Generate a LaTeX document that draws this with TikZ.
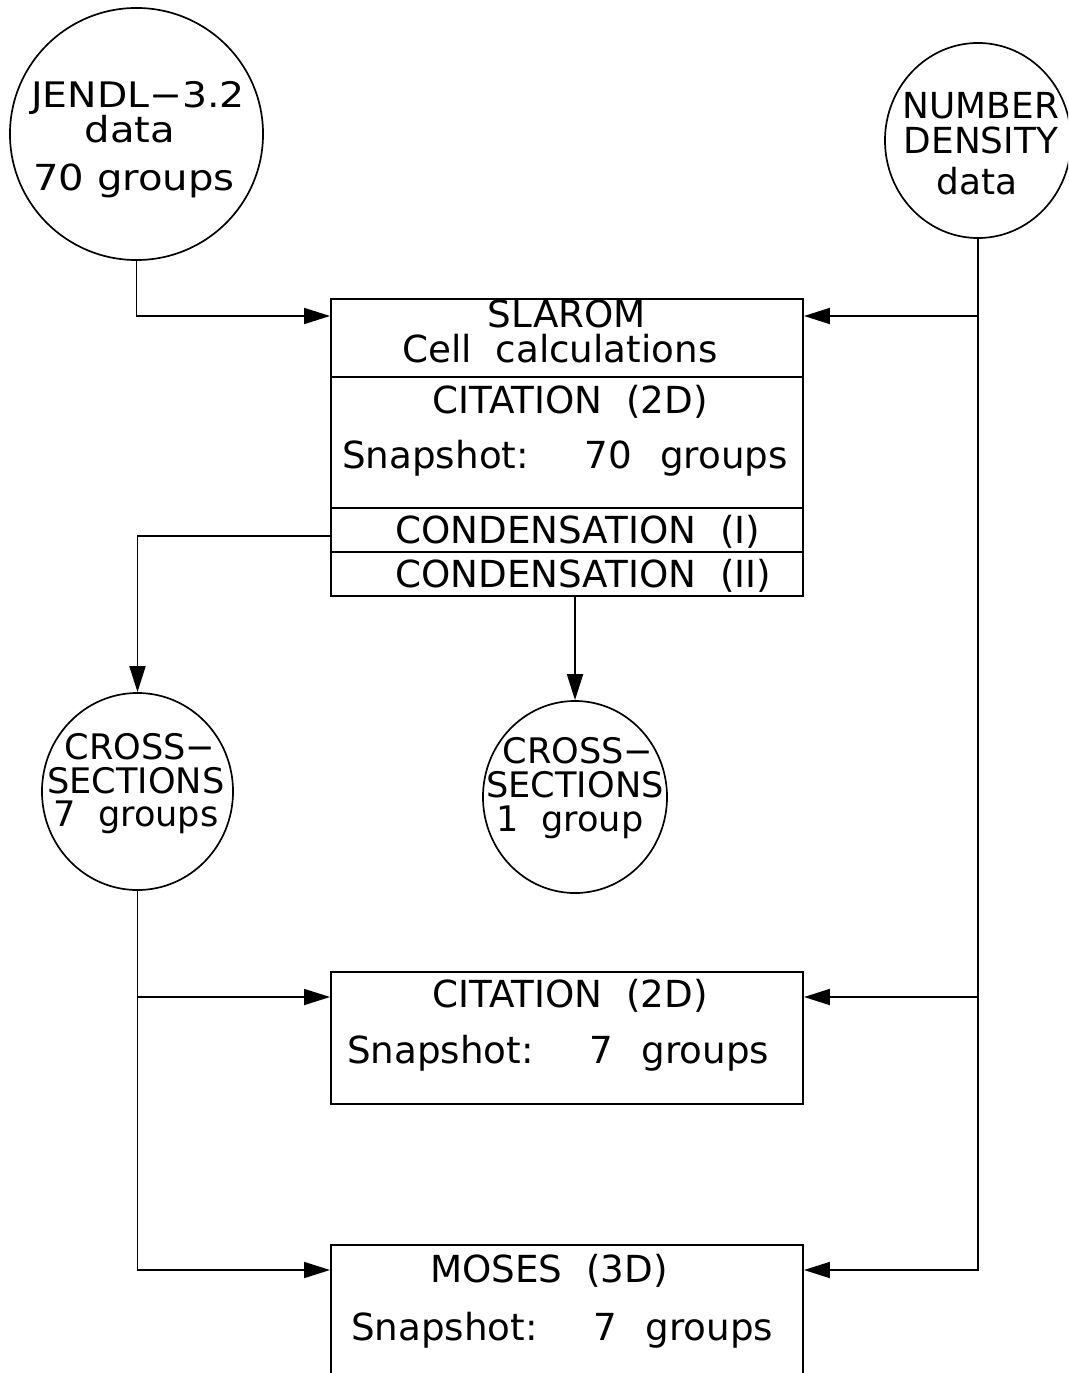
\documentclass[tikz,border=0pt]{standalone}
\usepackage{fontspec}
\setmainfont{DejaVu Sans}
\newfontfamily\widefont[FakeStretch=1.12,Ligatures=TeX]{DejaVu Sans}
\usepackage{tikz}
\usetikzlibrary{positioning,calc,arrows.meta,shapes.geometric}

\tikzset{
    blk/.style={draw, line width=1.3pt, minimum width=11.8cm, inner sep=0pt},
    src/.style={draw, ellipse, line width=1.2pt, inner sep=0pt},
    lbl/.style={anchor=base, inner sep=0pt, font=\fontsize{26.5}{30}\selectfont},
    flow/.style={line width=1.3pt, -{Triangle[length=0.65cm,width=0.4cm]}},
    wire/.style={line width=1.3pt}
}

\begin{document}
\begin{tikzpicture}[x=0.025cm, y=-0.025cm]
    \useasboundingbox (0,0) rectangle (1068,1373);
    \clip (0,0) rectangle (1068,1373);

    % Data sources
    \node[src, minimum width=6.325cm, minimum height=6.3cm] (jendl) at (136.5,134) {};
    \node[lbl, font=\widefont\fontsize{25}{30}\selectfont] (jendl-a) at (138,108) {JENDL\symbol{"2212}3.2};
    \node[lbl, font=\widefont\fontsize{25.5}{30}\selectfont] (jendl-b) at (130,143) {data};
    \node[lbl, font=\widefont\fontsize{25.5}{30}\selectfont] (jendl-c) at (134,190) {70\ groups};

    \node[src, minimum width=4.65cm, minimum height=4.875cm] (nd) at (978,140.5) {};
    \node[lbl, font=\fontsize{25.5}{30}\selectfont] (nd-a) at (981,119) {NUMBER};
    \node[lbl, font=\fontsize{25.5}{30}\selectfont] (nd-b) at (981,154) {DENSITY};
    \node[lbl, font=\fontsize{25.5}{30}\selectfont] (nd-c) at (977,195) {data};

    % SLAROM + CITATION block
    \node[blk, minimum height=7.425cm] (slarom) at (567,447.5) {};
    \draw[wire] (slarom.west |- 0,377) -- (slarom.east |- 0,377);
    \draw[wire] (slarom.west |- 0,508) -- (slarom.east |- 0,508);
    \draw[wire] (slarom.west |- 0,552) -- (slarom.east |- 0,552);
    \node[lbl] (slarom-a) at (567,327) {SLAROM};
    \node[lbl] (slarom-b) at (560,362) {Cell\ \ calculations};
    \node[lbl] (slarom-c) at (570,413) {CITATION\ \ (2D)};
    \node[lbl] (slarom-d) at (565,468) {Snapshot:\hspace{1.5em}70\hspace{0.75em}groups};
    \node[lbl, anchor=base west] (slarom-e) at (395,543) {CONDENSATION\ \ (I)};
    \node[lbl, anchor=base west] (slarom-f) at (395,587) {CONDENSATION\ \ (II)};

    % Condensed cross sections
    \node[src, minimum width=4.775cm, minimum height=4.925cm] (xs7) at (137.5,791.5) {};
    \node[lbl, font=\fontsize{25}{30}\selectfont] (xs7-a) at (140,759) {CROSS\symbol{"2212}};
    \node[lbl, font=\fontsize{25}{30}\selectfont] (xs7-b) at (136,793) {SECTIONS};
    \node[lbl, font=\fontsize{25}{30}\selectfont] (xs7-c) at (136,826) {7\ \ groups};

    \node[src, minimum width=4.6cm, minimum height=4.8cm] (xs1) at (575,797) {};
    \node[lbl, font=\fontsize{25}{30}\selectfont] (xs1-a) at (578,763) {CROSS\symbol{"2212}};
    \node[lbl, font=\fontsize{25}{30}\selectfont] (xs1-b) at (575,797) {SECTIONS};
    \node[lbl, font=\fontsize{25}{30}\selectfont] (xs1-c) at (570,831) {1\ \ group};

    % Core calculations
    \node[blk, minimum height=3.3cm] (cit) at (567,1038) {};
    \node[lbl] (cit-a) at (570,1007) {CITATION\ \ (2D)};
    \node[lbl] (cit-b) at (558,1063) {Snapshot:\hspace{1.5em}7\hspace{0.75em}groups};

    \node[blk, minimum height=5cm] (moses) at (567,1345) {};
    \node[lbl] (moses-a) at (549,1282) {MOSES\ \ (3D)};
    \node[lbl] (moses-b) at (562,1340) {Snapshot:\hspace{1.5em}7\hspace{0.75em}groups};

    % Connections
    \coordinate (row1) at (0,316);
    \coordinate (row2) at (0,997);
    \coordinate (row3) at (0,1270);
    \coordinate (cond) at (0,536);

    \draw[flow] (jendl.south) |- (slarom.west |- row1);
    \draw[flow] (nd.south) |- (moses.east |- row3);
    \draw[flow] (nd.south |- row1) -- (slarom.east |- row1);
    \draw[flow] (nd.south |- row2) -- (cit.east |- row2);

    \draw[flow] (slarom.west |- cond) -| (xs7.north);
    \draw[flow] (xs1.north |- slarom.south) -- (xs1.north);

    \draw[flow] (xs7.south) |- (moses.west |- row3);
    \draw[flow] (xs7.south |- row2) -- (cit.west |- row2);
\end{tikzpicture}
\end{document}
